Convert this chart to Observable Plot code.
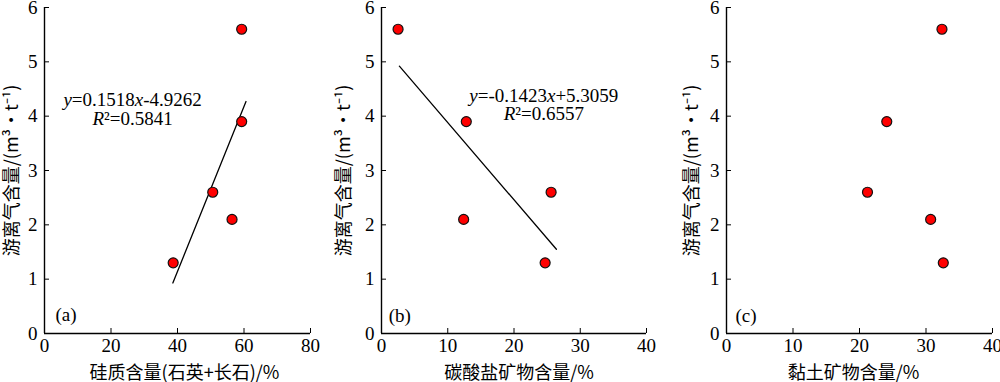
<!DOCTYPE html>
<html>
<head>
<meta charset="utf-8">
<script src="https://cdn.jsdelivr.net/npm/d3@7"></script>
<script src="https://cdn.jsdelivr.net/npm/@observablehq/plot@0.6"></script>
<style>
  html, body { margin: 0; padding: 0; background: #fff; }
  #wrap { position: relative; width: 1000px; height: 382px; overflow: hidden; }
  .panel { position: absolute; top: 0; }
  .panel svg { overflow: visible; font-family: "Liberation Serif", "DejaVu Serif", serif !important; }
</style>
</head>
<body>
<div id="wrap">
  <div class="panel" id="pa" style="left:0px"></div>
  <div class="panel" id="pb" style="left:337px"></div>
  <div class="panel" id="pc" style="left:682px"></div>
</div>
<script>
// ---- data ----
const gas = [1.3, 2.6, 2.1, 3.9, 5.6];            // 游离气含量 (m3/t)
const siliceous = [38.7, 50.6, 56.4, 59.3, 59.3];  // 硅质含量 (%)
const carbonate = [24.7, 25.6, 12.4, 12.8, 2.5];   // 碳酸盐矿物含量 (%)
const clay = [32.6, 21.2, 30.7, 24.1, 32.4];       // 黏土矿物含量 (%)

const fitA = [[38.6, 0.93], [60.6, 4.27]];
const fitB = [[2.7, 4.92], [26.4, 1.55]];

const yTicks = [0, 1, 2, 3, 4, 5, 6];
const xTicksA = [0, 20, 40, 60, 80];
const xTicksBC = [0, 10, 20, 30, 40];

const yLabel = "游离气含量/(m³•t⁻¹)";
const xLabelA = "硅质含量(石英+长石)/%";
const xLabelB = "碳酸盐矿物含量/%";
const xLabelC = "黏土矿物含量/%";

const eqA = ["y=0.1518x-4.9262", "R²=0.5841"];
const eqB = ["y=-0.1423x+5.3059", "R²=0.6557"];

const SERIF = "Liberation Serif";
const CJK = "Noto Sans CJK SC";

function panel({xs, xDomain, xTicks, fit, eq, eqPos, letter, letterPos, xLabel, xLabelDx, yLabelDx, width, marginRight}) {
  const pts = xs.map((x, i) => ({x, y: gas[i]}));
  const marks = [
    Plot.axisX({ticks: xTicks, tickSize: -5, tickPadding: 10, fontSize: 19, fontFamily: SERIF, tickFormat: d => d, label: null}),
    Plot.axisY({ticks: yTicks, tickSize: -5, tickPadding: 12, fontSize: 19, fontFamily: SERIF, tickFormat: d => d, label: null}),
    Plot.ruleY([0], {stroke: "#000", strokeWidth: 1.4}),
    Plot.ruleX([0], {stroke: "#000", strokeWidth: 1.4}),
  ];
  if (fit) marks.push(Plot.line(fit, {x: d => d[0], y: d => d[1], stroke: "#000", strokeWidth: 1.3}));
  marks.push(Plot.dot(pts, {x: "x", y: "y", r: 5, fill: "#ff0000", stroke: "#111", strokeWidth: 1.2}));
  if (eq) {
    marks.push(Plot.text([eq[0]], {x: eqPos[0], y: eqPos[1], text: d => d, fontSize: 19, fontFamily: SERIF, textAnchor: "middle", fill: "#000"}));
    marks.push(Plot.text([eq[1]], {x: eqPos[0], y: eqPos[2], text: d => d, fontSize: 19, fontFamily: SERIF, textAnchor: "middle", fill: "#000"}));
  }
  marks.push(Plot.text([letter], {x: letterPos[0], y: letterPos[1], text: d => d, fontSize: 19, fontFamily: SERIF, textAnchor: "start", fill: "#000"}));
  marks.push(Plot.text([xLabel], {frameAnchor: "bottom", text: d => d, dy: 40, dx: xLabelDx, fontSize: 18, fontFamily: CJK, fill: "#000", textAnchor: "middle", lineAnchor: "middle"}));
  marks.push(Plot.text([yLabel], {frameAnchor: "left", text: d => d, dx: yLabelDx, rotate: -90, fontSize: 18, fontFamily: CJK, fill: "#000", textAnchor: "middle", lineAnchor: "middle"}));
  const p = Plot.plot({
    width, height: 382,
    marginLeft: 44, marginRight, marginTop: 7, marginBottom: 49,
    style: {fontSize: "19px", color: "#000", background: "transparent", overflow: "visible"},
    x: {domain: xDomain},
    y: {domain: [0, 6]},
    marks
  });
  // italicise variable letters in the regression equations
  d3.select(p).selectAll("text").each(function () {
    const t = this.textContent;
    if (/^(y=|R²=)/.test(t)) {
      const sel = d3.select(this);
      sel.text(null);
      for (const ch of t.match(/[xyR]|[^xyR]+/g)) {
        const ts = sel.append("tspan").text(ch);
        if (/^[xyR]$/.test(ch)) ts.attr("font-style", "italic");
      }
    }
  });
  return p;
}

document.getElementById("pa").append(panel({
  xs: siliceous, xDomain: [0, 80], xTicks: xTicksA, fit: fitA, eq: eqA, eqPos: [26.5, 4.3, 3.95],
  letter: "(a)", letterPos: [3.3, 0.35], xLabel: xLabelA, xLabelDx: 7, yLabelDx: -32, width: 330, marginRight: 20
}));
document.getElementById("pb").append(panel({
  xs: carbonate, xDomain: [0, 40], xTicks: xTicksBC, fit: fitB, eq: eqB, eqPos: [24.5, 4.37, 4.04],
  letter: "(b)", letterPos: [1.1, 0.33], xLabel: xLabelB, xLabelDx: 5, yLabelDx: -37, width: 330, marginRight: 21
}));
document.getElementById("pc").append(panel({
  xs: clay, xDomain: [0, 40], xTicks: xTicksBC, fit: null, eq: null, eqPos: null,
  letter: "(c)", letterPos: [1.35, 0.33], xLabel: xLabelC, xLabelDx: -6, yLabelDx: -34, width: 318, marginRight: 8
}));
</script>
</body>
</html>
